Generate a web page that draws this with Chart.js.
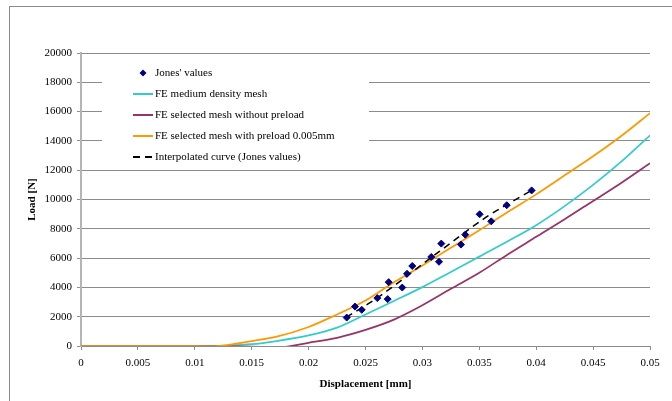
<!DOCTYPE html>
<html>
<head>
<meta charset="utf-8">
<script src="https://cdn.jsdelivr.net/npm/chart.js@4"></script>
<style>
html,body{margin:0;padding:0;background:#fff;overflow:hidden;}
canvas{display:block;}
</style>
</head>
<body>
<canvas id="c" width="672" height="401"></canvas>
<script>
// ---- data ----
const feDisp = [0, 0.0025, 0.005, 0.0075, 0.01, 0.0115, 0.0125, 0.015, 0.0172, 0.02, 0.0225, 0.025, 0.0275, 0.03, 0.0325, 0.035, 0.0375, 0.04, 0.0425, 0.045, 0.0475, 0.05];
const feMedium = [0, 0, 0, 0, 0, 0, 20, 120, 340, 720, 1250, 2150, 3075, 4020, 5050, 6100, 7150, 8250, 9550, 11000, 12600, 14380];
const feNoPreload = [0, 0, 0, 0, 0, 0, 0, -40, -110, 220, 560, 1100, 1800, 2780, 3900, 5000, 6250, 7450, 8650, 9900, 11150, 12480];
const fePreload = [0, 0, 0, 0, 0, -20, 30, 340, 640, 1300, 2150, 3100, 4350, 5500, 6700, 7900, 9150, 10350, 11650, 12950, 14350, 15900];

const jonesDisp = [0.02335, 0.02408, 0.02467, 0.02604, 0.02695, 0.02704, 0.02823, 0.02865, 0.02911, 0.03078, 0.03146, 0.03166, 0.03339, 0.03377, 0.03503, 0.03605, 0.03741, 0.03960];
const jonesLoad = [1940, 2690, 2470, 3270, 3200, 4360, 3990, 4930, 5460, 6080, 5750, 6990, 6920, 7600, 8990, 8510, 9610, 10620];

const interpDisp = [0.0233, 0.026, 0.0315, 0.0357, 0.0396];
const interpLoad = [1950, 3270, 6460, 8840, 10620];

const seriesLabels = ["Jones' values", "FE medium density mesh", "FE selected mesh without preload", "FE selected mesh with preload 0.005mm", "Interpolated curve (Jones values)"];
const xTickLabels = ["0", "0.005", "0.01", "0.015", "0.02", "0.025", "0.03", "0.035", "0.04", "0.045", "0.05"];
const yTickLabels = ["0", "2000", "4000", "6000", "8000", "10000", "12000", "14000", "16000", "18000", "20000"];
const xTitle = "Displacement [mm]";
const yTitle = "Load [N]";

// ---- build ----
const pts = (xs, ys) => xs.map((x, i) => ({x: x, y: ys[i]}));
const FONT = "'Liberation Serif', 'Times New Roman', serif";

const frame = {
  id: 'frame',
  beforeDraw(chart) {
    const ctx = chart.ctx;
    ctx.save();
    ctx.fillStyle = '#fff';
    ctx.fillRect(0, 0, chart.width, chart.height);
    ctx.strokeStyle = '#8a8a8a';
    ctx.lineWidth = 1;
    ctx.strokeRect(9.5, 6.5, 800, 600);
    ctx.restore();
  }
};

const legendBox = {
  id: 'legendBox',
  afterDraw(chart) {
    const ctx = chart.ctx;
    ctx.save();
    ctx.fillStyle = '#fff';
    ctx.fillRect(102, 57, 267, 112);
    const ds = chart.data.datasets;
    const order = [0, 1, 2, 3, 4];
    const ys = [73, 94, 115, 136, 157];
    ctx.font = '11px ' + FONT;
    ctx.textBaseline = 'middle';
    ctx.textAlign = 'left';
    order.forEach((k, i) => {
      const d = ds[k];
      const y = ys[i];
      if (k === 0) {
        ctx.fillStyle = d.backgroundColor;
        ctx.beginPath();
        ctx.moveTo(143, y - 3.5);
        ctx.lineTo(146.5, y);
        ctx.lineTo(143, y + 3.5);
        ctx.lineTo(139.5, y);
        ctx.closePath();
        ctx.fill();
      } else {
        ctx.strokeStyle = d.borderColor;
        ctx.lineWidth = 2;
        ctx.setLineDash(d.borderDash || []);
        ctx.beginPath();
        ctx.moveTo(133, y);
        ctx.lineTo(153, y);
        ctx.stroke();
        ctx.setLineDash([]);
      }
      ctx.fillStyle = '#000';
      ctx.fillText(d.label, 155, y + 0.5);
    });
    ctx.restore();
  }
};

new Chart(document.getElementById('c'), {
  type: 'line',
  data: {
    datasets: [
      {
        type: 'scatter',
        label: seriesLabels[0],
        data: pts(jonesDisp, jonesLoad),
        showLine: false,
        pointStyle: 'rectRot',
        pointRadius: 3.5,
        backgroundColor: '#000080',
        borderColor: '#000080',
        borderWidth: 1,
        order: 0
      },
      {
        label: seriesLabels[1],
        data: pts(feDisp, feMedium),
        borderColor: '#33CCCC',
        borderWidth: 1.75,
        pointRadius: 0,
        cubicInterpolationMode: 'monotone',
        order: 4
      },
      {
        label: seriesLabels[2],
        data: pts(feDisp, feNoPreload),
        borderColor: '#993366',
        borderWidth: 1.75,
        pointRadius: 0,
        cubicInterpolationMode: 'monotone',
        order: 3
      },
      {
        label: seriesLabels[3],
        data: pts(feDisp, fePreload),
        borderColor: '#FF9900',
        borderWidth: 1.75,
        pointRadius: 0,
        cubicInterpolationMode: 'monotone',
        order: 2
      },
      {
        label: seriesLabels[4],
        data: pts(interpDisp, interpLoad),
        borderColor: '#000000',
        borderWidth: 1.5,
        borderDash: [7, 5],
        pointRadius: 0,
        cubicInterpolationMode: 'monotone',
        order: 1
      }
    ]
  },
  options: {
    responsive: false,
    devicePixelRatio: 1,
    animation: false,
    layout: { padding: { left: 26, top: 53, right: 22, bottom: 10 } },
    plugins: { legend: { display: false }, tooltip: { enabled: false } },
    scales: {
      x: {
        type: 'linear',
        min: 0,
        max: 0.05,
        afterFit(s) { s.height = 45; },
        grid: { drawOnChartArea: false, drawTicks: true, tickLength: 4, color: '#8c8c8c' },
        border: { display: true, color: '#8c8c8c', width: 1 },
        ticks: {
          stepSize: 0.005,
          padding: 7,
          color: '#000',
          font: { family: FONT, size: 11 },
          maxRotation: 0,
          autoSkip: false,
          callback: (v, i) => xTickLabels[i]
        },
        title: {
          display: true,
          text: xTitle,
          color: '#000',
          padding: 0,
          font: { family: FONT, size: 11, weight: 'bold' }
        }
      },
      y: {
        min: 0,
        max: 20000,
        afterFit(s) { s.width = 55; },
        grid: { color: '#8c8c8c', lineWidth: 1, tickLength: 4 },
        border: { display: true, color: '#b4b4b4', width: 2 },
        ticks: {
          stepSize: 2000,
          padding: 5,
          color: '#000',
          font: { family: FONT, size: 11 },
          autoSkip: false,
          callback: (v, i) => yTickLabels[i]
        },
        title: {
          display: true,
          text: yTitle,
          color: '#000',
          padding: 0,
          font: { family: FONT, size: 11, weight: 'bold' }
        }
      }
    }
  },
  plugins: [frame, legendBox]
});
</script>
</body>
</html>
